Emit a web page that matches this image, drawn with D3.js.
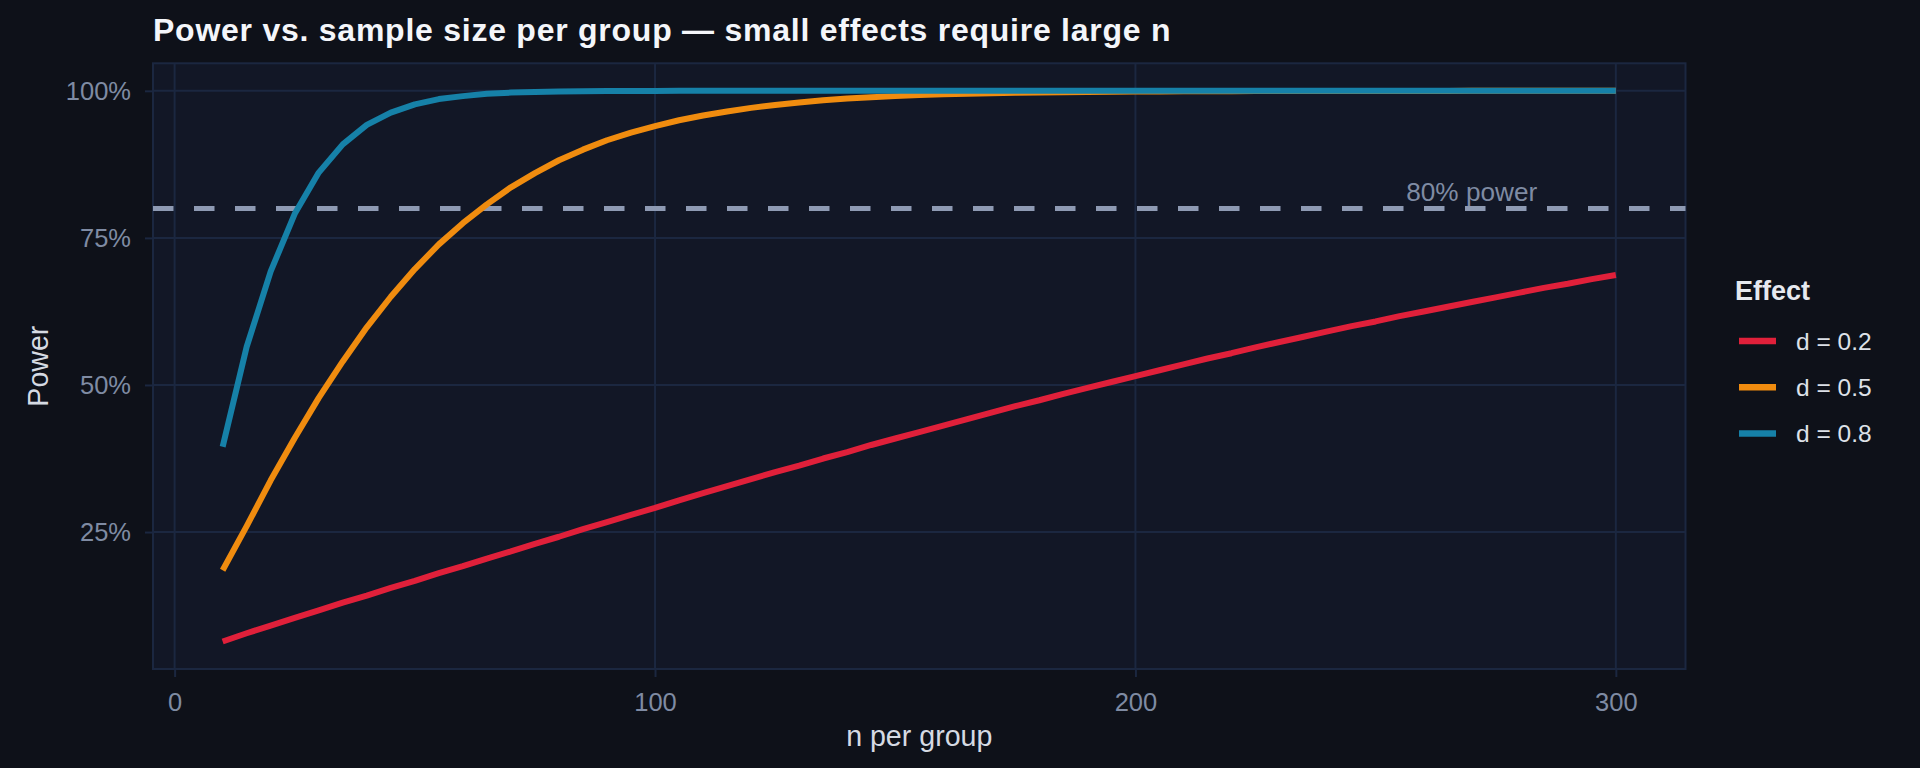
<!DOCTYPE html>
<html>
<head>
<meta charset="utf-8">
<script src="https://cdn.jsdelivr.net/npm/d3@7"></script>
<style>
  html, body { margin: 0; padding: 0; background: #0e1119; }
  svg { display: block; }
  text { font-family: "Liberation Sans", Arial, Helvetica, sans-serif; }
</style>
</head>
<body>
<svg id="chart" width="1920" height="768"></svg>
<script>
// ---- data ----
const nPerGroup = [10,15,20,25,30,35,40,45,50,55,60,65,70,75,80,85,90,95,100,
  105,110,115,120,125,130,135,140,145,150,155,160,165,170,175,180,185,190,195,200,
  205,210,215,220,225,230,235,240,245,250,255,260,265,270,275,280,285,290,295,300];

const powerD02 = [0.064,0.078,0.091,0.104,0.117,0.130,0.142,0.155,0.167,0.180,0.192,0.205,0.217,0.230,0.242,0.255,0.267,0.279,0.291,
  0.304,0.316,0.328,0.340,0.352,0.363,0.375,0.386,0.398,0.409,0.420,0.431,0.442,0.453,0.464,0.474,0.485,0.495,0.505,0.515,
  0.525,0.535,0.545,0.554,0.564,0.573,0.582,0.591,0.600,0.608,0.617,0.625,0.633,0.641,0.649,0.657,0.665,0.672,0.680,0.687];

const powerD05 = [0.185,0.260,0.338,0.410,0.478,0.540,0.598,0.650,0.697,0.739,0.775,0.807,0.836,0.860,0.882,0.900,0.916,0.929,0.940,
  0.950,0.958,0.965,0.971,0.976,0.980,0.984,0.987,0.989,0.991,0.9927,0.994,0.995,0.996,0.9967,0.9973,0.9978,0.9982,0.9985,0.9988,
  0.999,0.9992,0.9994,0.9995,0.9996,0.9997,0.9998,0.9998,0.9998,0.9999,0.9999,0.9999,0.9999,1,1,1,1,1,1,1];

const powerD08 = [0.395,0.565,0.693,0.791,0.861,0.909,0.942,0.963,0.977,0.986,0.991,0.995,0.997,0.998,0.999,0.9994,0.9997,0.9998,0.9999,
  1,1,1,1,1,1,1,1,1,1,1,1,1,1,1,1,1,1,1,1,
  1,1,1,1,1,1,1,1,1,1,1,1,1,1,1,1,1,1,1,1];

const seriesNames = ["d = 0.2", "d = 0.5", "d = 0.8"];
const seriesColors = ["#e0203a", "#f08c0f", "#1681a8"];
const xTicks = [0, 100, 200, 300];
const yTicks = [0.25, 0.5, 0.75, 1.0];
const refPower = 0.8;
const refLabel = "80% power";
const refLabelX = 270;
const titleText = "Power vs. sample size per group \u2014 small effects require large n";
const xTitle = "n per group";
const yTitle = "Power";
const legendTitle = "Effect";

// ---- layout ----
const W = 1920, H = 768;
const P = { left: 153, right: 1685.5, top: 63.3, bottom: 669 };

const series = [powerD02, powerD05, powerD08].map((vals, i) => ({
  name: seriesNames[i], color: seriesColors[i],
  points: nPerGroup.map((n, j) => ({ n, p: vals[j] }))
}));

function expand(ext, f = 0.05) {
  const d = ext[1] - ext[0];
  return [ext[0] - d * f, ext[1] + d * f];
}
const allP = series.flatMap(s => s.points.map(d => d.p));
const x = d3.scaleLinear().domain(expand(d3.extent(nPerGroup))).range([P.left, P.right]);
const y = d3.scaleLinear().domain(expand(d3.extent(allP))).range([P.bottom, P.top]);

const svg = d3.select("#chart");
const gridColor = "#1b2740";

svg.append("rect").attr("x", 0).attr("y", 0).attr("width", W).attr("height", H).attr("fill", "#0e1119");
svg.append("rect").attr("x", P.left).attr("y", P.top)
  .attr("width", P.right - P.left).attr("height", P.bottom - P.top)
  .attr("fill", "#121726");

// grid lines
svg.append("g").selectAll("line").data(xTicks).join("line")
  .attr("x1", d => x(d)).attr("x2", d => x(d))
  .attr("y1", P.top).attr("y2", P.bottom)
  .attr("stroke", gridColor).attr("stroke-width", 2);
svg.append("g").selectAll("line").data(yTicks).join("line")
  .attr("x1", P.left).attr("x2", P.right)
  .attr("y1", d => y(d)).attr("y2", d => y(d))
  .attr("stroke", gridColor).attr("stroke-width", 2);

// panel border
svg.append("rect").attr("x", P.left).attr("y", P.top)
  .attr("width", P.right - P.left).attr("height", P.bottom - P.top)
  .attr("fill", "none").attr("stroke", gridColor).attr("stroke-width", 2);

// axes
const xAxis = d3.axisBottom(x).tickValues(xTicks).tickSize(8).tickPadding(16).tickFormat(d3.format("d"));
const gx = svg.append("g").attr("transform", `translate(0,${P.bottom})`).call(xAxis);
gx.select(".domain").remove();
gx.selectAll(".tick line").attr("stroke", gridColor).attr("stroke-width", 2);
gx.selectAll(".tick text").attr("fill", "#7f8ba3").attr("font-size", 25.5)
  .attr("font-family", "Liberation Sans, Arial, sans-serif");

const yAxis = d3.axisLeft(y).tickValues(yTicks).tickSize(8).tickPadding(14).tickFormat(d3.format(".0%"));
const gy = svg.append("g").attr("transform", `translate(${P.left},0)`).call(yAxis);
gy.select(".domain").remove();
gy.selectAll(".tick line").attr("stroke", gridColor).attr("stroke-width", 2);
gy.selectAll(".tick text").attr("fill", "#7f8ba3").attr("font-size", 25.5)
  .attr("font-family", "Liberation Sans, Arial, sans-serif");

// reference line
svg.append("line")
  .attr("x1", P.left).attr("x2", P.right)
  .attr("y1", y(refPower)).attr("y2", y(refPower))
  .attr("stroke", "#8e9ab3").attr("stroke-width", 5)
  .attr("stroke-dasharray", "20.5,20.5");

svg.append("text")
  .attr("x", x(refLabelX)).attr("y", y(refPower) - 7.5)
  .attr("text-anchor", "middle")
  .attr("fill", "#7f8ba3").attr("font-size", 26.2)
  .text(refLabel);

// series lines
const line = d3.line().x(d => x(d.n)).y(d => y(d.p));
svg.append("g").selectAll("path").data(series).join("path")
  .attr("d", d => line(d.points))
  .attr("fill", "none")
  .attr("stroke", d => d.color)
  .attr("stroke-width", 6)
  .attr("stroke-linejoin", "round");

// titles
svg.append("text").attr("x", 153).attr("y", 41)
  .attr("fill", "#f4f6fa").attr("font-size", 32).attr("font-weight", "bold")
  .attr("letter-spacing", 0.75)
  .text(titleText);

svg.append("text").attr("x", (P.left + P.right) / 2).attr("y", 746)
  .attr("text-anchor", "middle").attr("fill", "#d5dae3").attr("font-size", 28.6)
  .text(xTitle);

svg.append("text")
  .attr("transform", `translate(48.3,${(P.top + P.bottom) / 2}) rotate(-90)`)
  .attr("text-anchor", "middle").attr("fill", "#d5dae3").attr("font-size", 28.6)
  .text(yTitle);

// legend
const lg = svg.append("g");
lg.append("text").attr("x", 1735).attr("y", 300)
  .attr("fill", "#e6e9ef").attr("font-size", 27).attr("font-weight", "bold")
  .text(legendTitle);
const items = lg.selectAll("g.item").data(series).join("g")
  .attr("class", "item")
  .attr("transform", (d, i) => `translate(0,${341 + i * 46.2})`);
items.append("line").attr("x1", 1739).attr("x2", 1776).attr("y1", 0).attr("y2", 0)
  .attr("stroke", d => d.color).attr("stroke-width", 6.5);
items.append("text").attr("x", 1796).attr("y", 9)
  .attr("fill", "#dde1e8").attr("font-size", 24.5)
  .text(d => d.name);
</script>
</body>
</html>
